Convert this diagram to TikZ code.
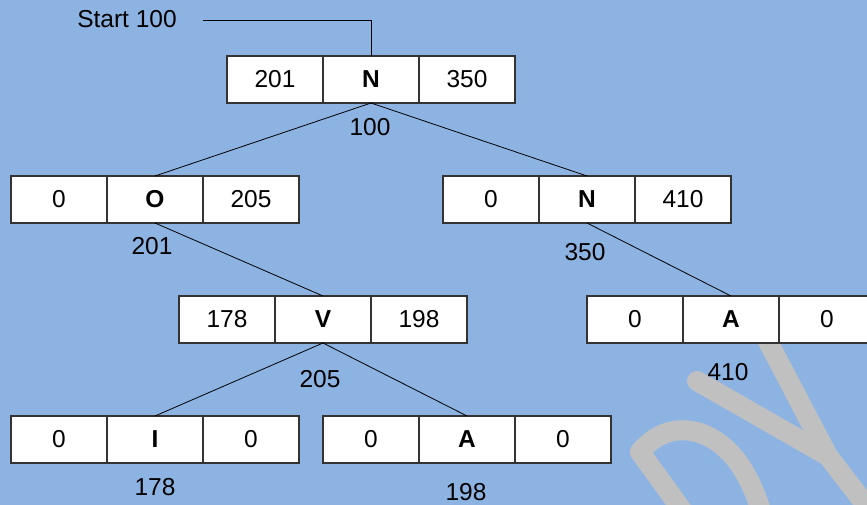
\documentclass[tikz,border=0pt]{standalone}
\usepackage{fontspec}
\setmainfont{Liberation Sans}
\definecolor{bg}{HTML}{8DB3E2}
\definecolor{markgrey}{HTML}{C0C0C0}

% one record: name, left x, top y, left field, key, right field
\newcommand\cellrow[6]{%
  \node[cell] (#1l) at (#2+48,#3+23.5) {#4};
  \node[key]  (#1m) at (#2+144,#3+23.5) {#5};
  \node[cell] (#1r) at (#2+240,#3+23.5) {#6};
}

\begin{document}
\begin{tikzpicture}[x=1pt,y=-1pt,
  cell/.style={draw=black!80, line width=1.2pt, fill=white,
    minimum width=96pt, minimum height=47pt, inner sep=0pt, outer sep=0pt,
    font=\fontsize{24.5}{28}\selectfont},
  key/.style={cell, font=\fontsize{24.5}{28}\selectfont\bfseries},
  lbl/.style={font=\fontsize{24.5}{28}\selectfont, inner sep=0pt},
  link/.style={draw=black, line width=0.8pt},
  wm/.style={draw=markgrey, line width=20pt, line cap=round, line join=round}]

\useasboundingbox (0,0) rectangle (867,505);
\fill[bg] (0,0) rectangle (867,505);

% faint lettering in the background
\begin{scope}
  \clip (0,0) rectangle (867,505);
  \draw[wm] (640,452) -- (700,535);
  \draw[wm] (640,452) .. controls (668,418) and (712,425) .. (740,465)
            .. controls (750,480) and (757,497) .. (764,520);
  \draw[wm] (697,381) -- (828,456) -- (885,530);
  \draw[wm] (762,330) -- (828,456);
  \draw[wm] (560.8,538.9) arc[start angle=160, end angle=30, radius=47];
\end{scope}

% records
\cellrow{t}{227}{56}{201}{N}{350}
\cellrow{o}{11}{176}{0}{O}{205}
\cellrow{n}{443}{176}{0}{N}{410}
\cellrow{v}{179}{296}{178}{V}{198}
\cellrow{a}{587}{296}{0}{A}{0}
\cellrow{i}{11}{416}{0}{I}{0}
\cellrow{b}{323}{416}{0}{A}{0}

% addresses under the records
\node[lbl] (lt) at (370,127) {100};
\node[lbl] (lo) at (152,246) {201};
\node[lbl] (ln) at (585,252) {350};
\node[lbl] (lv) at (320,379) {205};
\node[lbl] (la) at (728,372) {410};
\node[lbl] (li) at (155,487) {178};
\node[lbl] (lb) at (466,492) {198};

% start pointer
\node[lbl] (start) at (127,19) {Start 100};
\coordinate (s0) at (203,20);
\draw[link] (s0) -| (tm.north);

% links
\draw[link] (tm.south) -- (om.north);
\draw[link] (tm.south) -- (nm.north);
\draw[link] (om.south) -- (vm.north);
\draw[link] (nm.south) -- (am.north);
\draw[link] (vm.south) -- (im.north);
\draw[link] (vm.south) -- (bm.north);
\end{tikzpicture}
\end{document}
